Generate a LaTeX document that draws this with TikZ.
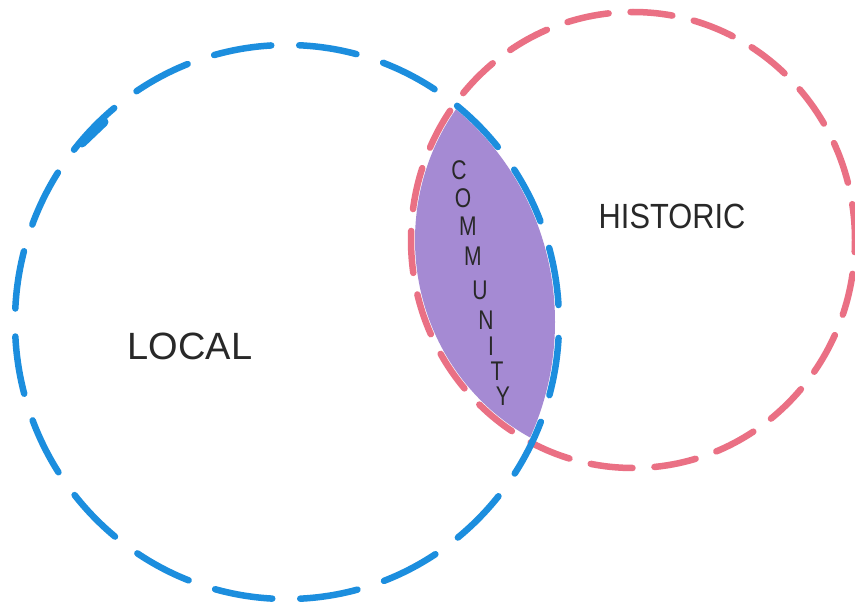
\documentclass[tikz,border=0pt]{standalone}
\usepackage{fontspec}
\setmainfont{Liberation Sans}
\begin{document}
\begin{tikzpicture}[x=1pt,y=-1pt,
  bluering/.style={draw=ringblue,line width=6.5pt,line cap=round,dash pattern=on 58pt off 28pt},
  redring/.style={draw=ringred,line width=6.5pt,line cap=round,dash pattern=on 42pt off 22pt},
  lbl/.style={text=inkgray,inner sep=0pt},
  vlet/.style={text=inkgray,inner sep=0pt,font=\fontsize{27}{27}\selectfont,xscale=0.78,transform shape}]
\definecolor{ringblue}{RGB}{28,142,222}
\definecolor{ringred}{RGB}{234,112,132}
\definecolor{washpurple}{RGB}{150,118,204}
\definecolor{inkgray}{RGB}{40,40,40}
\useasboundingbox (0,0) rectangle (855,602);
\fill[white] (0,0) rectangle (855,602);
% coordinates of the circles
\coordinate (bc) at (287,322);
\coordinate (rc) at (633,240);
% purple wash in the overlap
\begin{scope}
  \clip (bc) ellipse [x radius=268, y radius=274];
  \fill[washpurple,opacity=0.85] (rc) ellipse [x radius=218, y radius=224];
\end{scope}
% dashed circles
\draw[redring,dash phase=30pt] (rc) ellipse [x radius=222, y radius=228];
\draw[bluering,dash phase=70pt] (bc) ellipse [x radius=272, y radius=277];
% ink blot on the blue ring
\draw[ringblue,line width=9pt,line cap=round] (82,143) -- (104,122);
% labels
\node[lbl,font=\fontsize{38}{38}\selectfont] (local) at (190,346) {LOCAL};
\node[lbl,font=\fontsize{35}{35}\selectfont,xscale=0.88,transform shape] (historic) at (672,216) {HISTORIC};
\node[vlet] (c1) at (459,170) {C};
\node[vlet] (c2) at (463,198) {O};
\node[vlet] (c3) at (468,226) {M};
\node[vlet] (c4) at (473,256) {M};
\node[vlet] (c5) at (480,290) {U};
\node[vlet] (c6) at (486,320) {N};
\node[vlet] (c7) at (491,346) {I};
\node[vlet] (c8) at (497,371) {T};
\node[vlet] (c9) at (503,396) {Y};
\end{tikzpicture}
\end{document}
